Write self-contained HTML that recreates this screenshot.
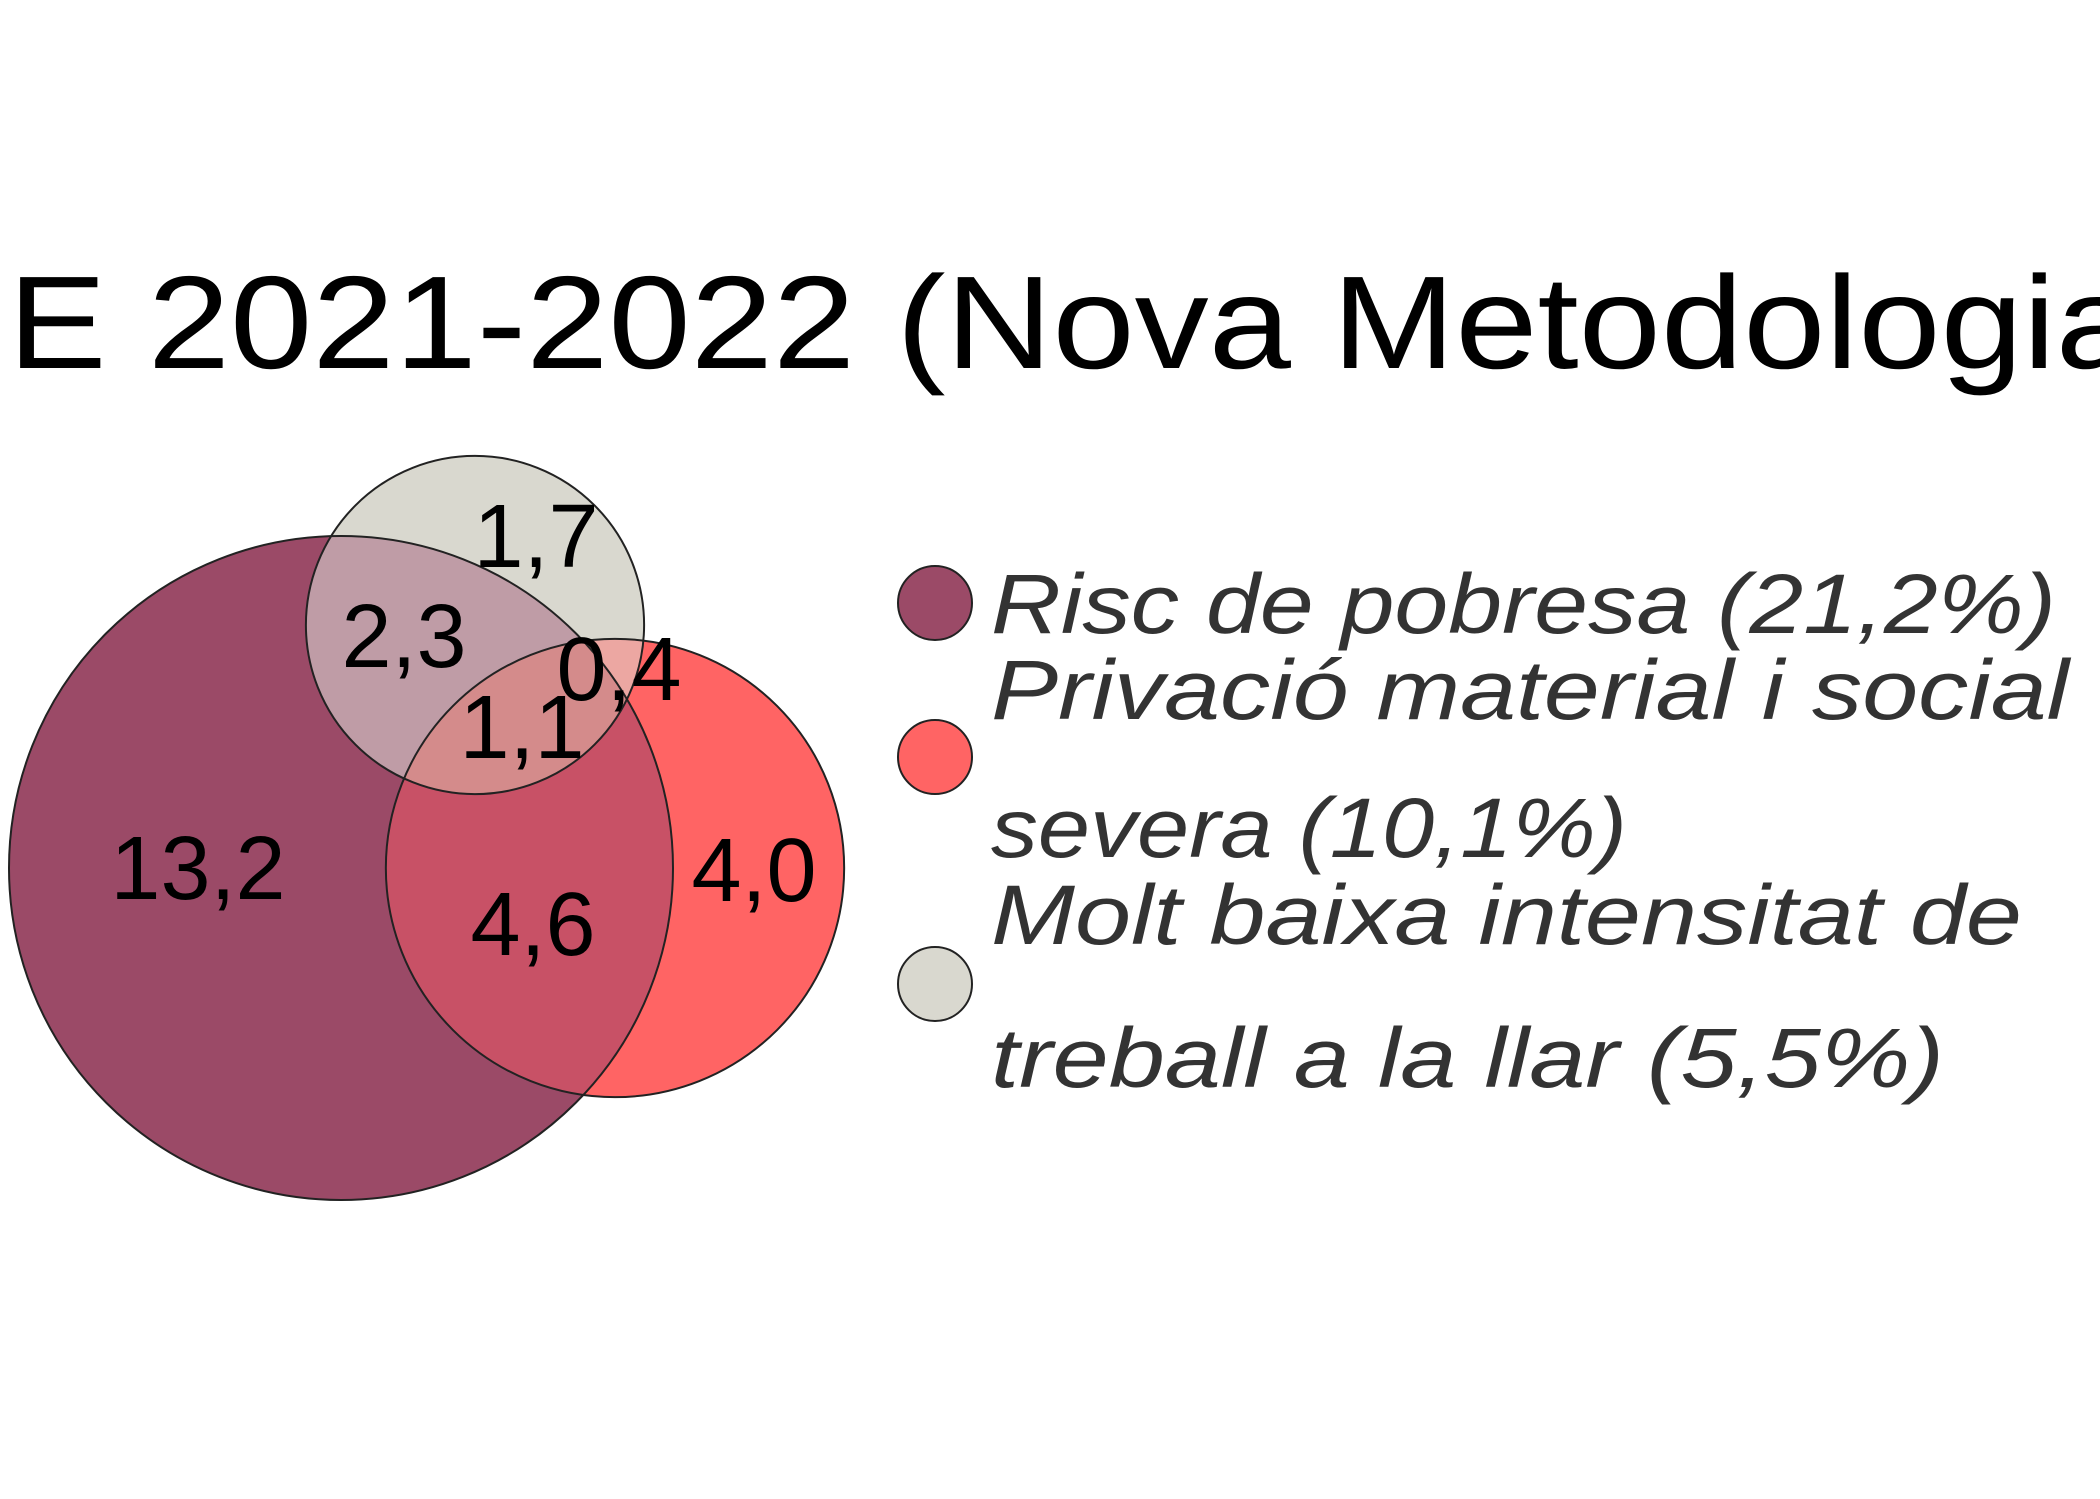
<!DOCTYPE html>
<html>
<head>
<meta charset="utf-8">
<style>
html,body{margin:0;padding:0;background:#fff;}
svg{display:block;}
text{font-family:"Liberation Sans",sans-serif;}
</style>
</head>
<body>
<svg id="chart" width="2100" height="1499" viewBox="0 0 2100 1499" xmlns="http://www.w3.org/2000/svg">
  <rect x="0" y="0" width="2100" height="1499" fill="#ffffff"/>
  <text x="8" y="368" font-size="132" fill="#000" textLength="2130" lengthAdjust="spacingAndGlyphs">E 2021-2022 (Nova Metodologia</text>
  <defs>
    <clipPath id="cpP"><circle id="cpPc" cx="0" cy="0" r="0"/></clipPath>
    <clipPath id="cpR"><circle id="cpRc" cx="0" cy="0" r="0"/></clipPath>
    <clipPath id="cpG"><circle id="cpGc" cx="0" cy="0" r="0"/></clipPath>
  </defs>
  <g id="venn"></g>
  <g id="labels"></g>
  <g id="legend"></g>
</svg>
<script>
// Data
const setNames = ["Risc de pobresa", "Privació material i social severa", "Molt baixa intensitat de treball a la llar"];
const setValues = [21.2, 10.1, 5.5];
const regionLabels = ["13,2", "4,0", "1,7", "4,6", "2,3", "0,4", "1,1"];
const legendLines = [["Risc de pobresa (21,2%)"], ["Privació material i social", "severa (10,1%)"], ["Molt baixa intensitat de", "treball a la llar (5,5%)"]];

const NS = "http://www.w3.org/2000/svg";
const svg = document.getElementById('chart');
const K = 332 / Math.sqrt(21.2);
const rad = v => K * Math.sqrt(v);
// layout centres
const centers = [[341, 868], [615, 868], [475, 625]];
const fills = ["#9b4a67", "#ff6464", "#d9d8cf"];
const ids = ["cpPc", "cpRc", "cpGc"];
setValues.forEach((v, i) => {
  const c = document.getElementById(ids[i]);
  c.setAttribute('cx', centers[i][0]); c.setAttribute('cy', centers[i][1]); c.setAttribute('r', rad(v));
});
function circ(i, fill, stroke) {
  const c = document.createElementNS(NS, 'circle');
  c.setAttribute('cx', centers[i][0]); c.setAttribute('cy', centers[i][1]); c.setAttribute('r', rad(setValues[i]));
  c.setAttribute('fill', fill);
  if (stroke) { c.setAttribute('stroke', '#222'); c.setAttribute('stroke-width', '2'); }
  return c;
}
const venn = document.getElementById('venn');
function clipped(clips, i, fill, name) {
  let parent = venn;
  clips.forEach(cl => {
    const g = document.createElementNS(NS, 'g');
    g.setAttribute('clip-path', 'url(#' + cl + ')');
    parent.appendChild(g); parent = g;
  });
  const c = circ(i, fill, false);
  
  
  parent.appendChild(c);
}
clipped([], 0, fills[0], 'circle-risc-pobresa');
clipped([], 1, fills[1], 'circle-privacio');
clipped(['cpP'], 1, '#c85166', 'region-pobresa-privacio');
clipped([], 2, fills[2], 'circle-intensitat');
clipped(['cpP'], 2, '#bf9ca6', 'region-pobresa-intensitat');
clipped(['cpR'], 2, '#eca7a2', 'region-privacio-intensitat');
clipped(['cpP', 'cpR'], 2, '#d48b8b', 'region-all-three');
[0, 1, 2].forEach(i => {
  const c = circ(i, 'none', true);
  
  
  venn.appendChild(c);
});
// label positions (layout)
const labelPos = [[198, 868], [754, 870], [536, 536], [533, 924], [404, 636], [619, 669], [522, 727]];
const lg = document.getElementById('labels');
regionLabels.forEach((t, i) => {
  const e = document.createElementNS(NS, 'text');
  e.setAttribute('x', labelPos[i][0]); e.setAttribute('y', labelPos[i][1] + 31);
  e.setAttribute('text-anchor', 'middle'); e.setAttribute('font-size', '90'); e.setAttribute('fill', '#000');
  e.textContent = t;
  
  
  lg.appendChild(e);
});
// legend
const leg = document.getElementById('legend');
const markerY = [603, 757, 984];
const lineY = [[633], [719, 857], [944, 1087]];
const lineW = [[1065], [1078, 636], [1031, 953]];
legendLines.forEach((lines, i) => {
  const m = document.createElementNS(NS, 'circle');
  m.setAttribute('cx', 935); m.setAttribute('cy', markerY[i]); m.setAttribute('r', 37);
  m.setAttribute('fill', fills[i]); m.setAttribute('stroke', '#222'); m.setAttribute('stroke-width', '2');
  
  
  leg.appendChild(m);
  lines.forEach((t, j) => {
    const e = document.createElementNS(NS, 'text');
    e.setAttribute('x', 991); e.setAttribute('y', lineY[i][j]);
    e.setAttribute('font-size', '84'); e.setAttribute('font-style', 'italic'); e.setAttribute('fill', '#333');
    e.setAttribute('textLength', lineW[i][j]); e.setAttribute('lengthAdjust', 'spacingAndGlyphs');
    e.textContent = t;
    
    
    leg.appendChild(e);
  });
});
</script>
</body>
</html>
